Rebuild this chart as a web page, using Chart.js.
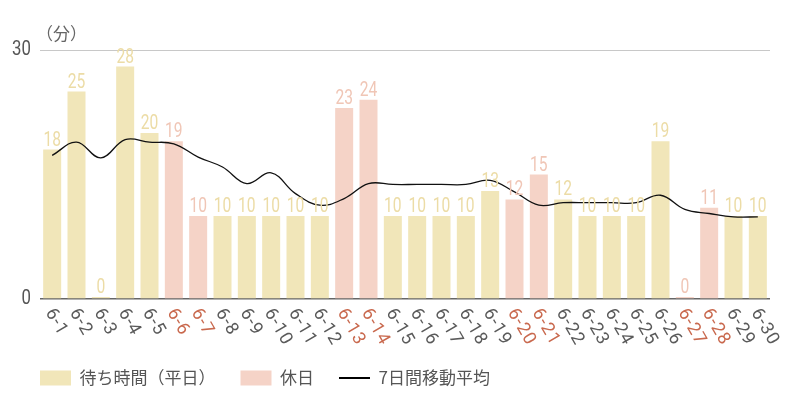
<!DOCTYPE html>
<html lang="ja">
<head>
<meta charset="utf-8">
<script src="https://cdn.jsdelivr.net/npm/chart.js@4.4.1/dist/chart.umd.min.js"></script>
<style>
  html, body { margin: 0; padding: 0; background: #fff; }
  #wrap { width: 800px; height: 400px; position: relative; }
</style>
</head>
<body>
<div id="wrap"><canvas id="waitChart"></canvas></div>
<script>
// 日付
const days = ['6-1', '6-2', '6-3', '6-4', '6-5', '6-6', '6-7', '6-8', '6-9', '6-10',
    '6-11', '6-12', '6-13', '6-14', '6-15', '6-16', '6-17', '6-18', '6-19', '6-20',
    '6-21', '6-22', '6-23', '6-24', '6-25', '6-26', '6-27', '6-28', '6-29', '6-30'];

// 待ち時間（分）
const waits = [18, 25, 0, 28, 20, 19, 10, 10, 10, 10,
    10, 10, 23, 24, 10, 10, 10, 10, 13, 12,
    15, 12, 10, 10, 10, 19, 0, 11, 10, 10];

// 休日
const holidays = ['6-6', '6-7', '6-13', '6-14', '6-20', '6-21', '6-27', '6-28'];

// 7日間移動平均
const movingAvg = [17.3, 18.9, 17.0, 19.2, 18.9, 18.7, 17.1, 15.9, 13.9, 15.2,
    12.7, 11.3, 12.1, 13.9, 13.8, 13.8, 13.8, 13.8, 14.3, 12.9,
    11.3, 11.6, 11.6, 11.6, 11.6, 12.5, 10.8, 10.3, 9.9, 9.9];

const yTicks = [0, 30];

const weekdayColor = '#f1e6b9';
const holidayColor = '#f5d3c7';

const isHoliday = days.map(d => holidays.includes(d));
const weekdayData = waits.map((v, i) => isHoliday[i] ? null : v);
const holidayData = waits.map((v, i) => isHoliday[i] ? v : null);

// 数値ラベル・軸ラベル
const textPlugin = {
    id: 'textPlugin',
    afterDraw(chart) {
        const {ctx, chartArea, scales: {x, y}} = chart;
        ctx.save();

        // 棒の上の数値
        chart.data.datasets.forEach((ds, di) => {
            if (ds.type === 'line') return;
            const meta = chart.getDatasetMeta(di);
            meta.data.forEach((bar, i) => {
                const v = ds.data[i];
                if (v === null) return;
                ctx.save();
                ctx.translate(bar.x, bar.y - 4);
                ctx.scale(0.78, 1);
                ctx.fillStyle = ds.labelColor;
                ctx.font = '20px Roboto';
                ctx.textAlign = 'center';
                ctx.textBaseline = 'alphabetic';
                ctx.fillText(String(v), 0, 0);
                ctx.restore();
            });
        });

        // x軸ラベル（斜め）
        days.forEach((d, i) => {
            const px = x.getPixelForTick(i);
            ctx.save();
            ctx.translate(px - 3, chartArea.bottom + 11);
            ctx.rotate(60 * Math.PI / 180);
            ctx.fillStyle = isHoliday[i] ? '#c9694e' : '#5a5a5a';
            ctx.font = '18px Roboto';
            ctx.letterSpacing = '1px';
            ctx.textAlign = 'left';
            ctx.textBaseline = 'middle';
            ctx.fillText(d, 0, 0);
            ctx.restore();
        });

        // y軸ラベル
        yTicks.forEach(v => {
            ctx.save();
            ctx.translate(chartArea.left - 9, y.getPixelForValue(v));
            ctx.scale(0.8, 1);
            ctx.fillStyle = '#555';
            ctx.font = '21px Roboto';
            ctx.textAlign = 'right';
            ctx.textBaseline = 'middle';
            ctx.fillText(String(v), 0, 0);
            ctx.restore();
        });

        // 単位
        ctx.fillStyle = '#666';
        ctx.font = '17px "Noto Sans CJK JP"';
        ctx.textAlign = 'left';
        ctx.textBaseline = 'middle';
        ctx.fillText('（分）', chartArea.left - 4, 34);

        ctx.restore();
    }
};

const ctx = document.getElementById('waitChart').getContext('2d');
const waitChart = new Chart(ctx, {
    data: {
        labels: days,
        datasets: [
            {
                type: 'bar',
                label: '待ち時間（平日）',
                data: weekdayData,
                backgroundColor: weekdayColor,
                labelColor: '#ecdca6',
                order: 2
            },
            {
                type: 'bar',
                label: '休日',
                data: holidayData,
                backgroundColor: holidayColor,
                labelColor: '#f0c6b6',
                order: 2
            },
            {
                type: 'line',
                label: '7日間移動平均',
                data: movingAvg,
                borderColor: '#111',
                backgroundColor: '#111',
                borderWidth: 1.3,
                pointRadius: 0,
                tension: 0.4,
                order: 1
            }
        ]
    },
    options: {
        responsive: true,
        maintainAspectRatio: false,
        animation: false,
        layout: {
            padding: {left: 15, right: 30, top: 50, bottom: 3.5}
        },
        datasets: {
            bar: {
                categoryPercentage: 1,
                barPercentage: 0.74,
                minBarLength: 2,
                borderWidth: 0
            }
        },
        scales: {
            x: {
                stacked: true,
                grid: {display: false},
                border: {display: false},
                ticks: {display: false},
                afterFit(s) { s.height = 45.5; }
            },
            y: {
                stacked: true,
                min: 0,
                max: 30,
                ticks: {display: false, stepSize: 30},
                grid: {
                    drawTicks: false,
                    color: c => c.tick.value === 0 ? '#666' : '#c8c8c8',
                    lineWidth: c => c.tick.value === 0 ? 1.5 : 1
                },
                border: {display: false},
                afterFit(s) { s.width = 25; }
            }
        },
        plugins: {
            tooltip: {enabled: false},
            legend: {
                position: 'bottom',
                align: 'start',
                labels: {
                    usePointStyle: true,
                    pointStyleWidth: 31,
                    boxHeight: 15,
                    padding: 25,
                    color: '#555',
                    font: {family: "'Noto Sans CJK JP', sans-serif", size: 17},
                    sort: (a, b) => a.datasetIndex - b.datasetIndex,
                    generateLabels(chart) {
                        const items = Chart.defaults.plugins.legend.labels.generateLabels(chart);
                        items.forEach(it => {
                            if (it.datasetIndex === 2) {
                                it.pointStyle = 'line';
                                it.lineWidth = 2;
                                it.strokeStyle = '#000';
                            } else {
                                it.pointStyle = 'rect';
                                it.lineWidth = 0;
                            }
                        });
                        return items;
                    }
                }
            }
        }
    },
    plugins: [textPlugin]
});
</script>
</body>
</html>
